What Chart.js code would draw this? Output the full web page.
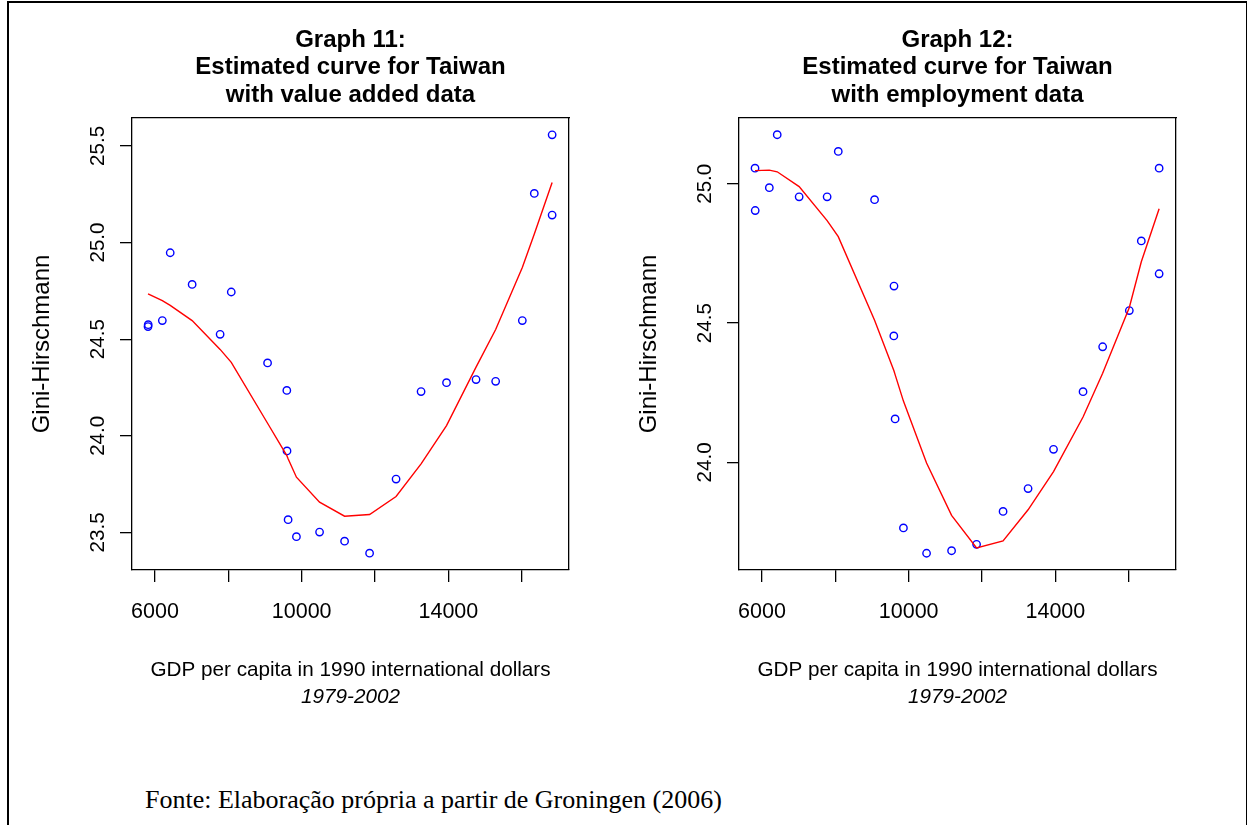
<!DOCTYPE html>
<html>
<head>
<meta charset="utf-8">
<title>Estimated curves for Taiwan</title>
<script src="https://cdn.jsdelivr.net/npm/chart.js@4/dist/chart.umd.min.js"></script>
<style>
  html, body { margin: 0; padding: 0; background: #fff; }
  #page { position: relative; width: 1248px; height: 825px; overflow: hidden; background: #fff; }
  #frame { position: absolute; left: 7px; top: 1px; width: 1237px; height: 900px;
           border-left: 2px solid #000; border-top: 2px solid #000; border-right: 1px solid #000; }
  canvas { position: absolute; top: 0; }
  #c11 { left: 20px; }
  #c12 { left: 627px; }
  #source { position: absolute; left: 145px; top: 787px; font-family: "Liberation Serif", "Times New Roman", serif;
            font-size: 26px; line-height: 26px; color: #000; white-space: nowrap; }
</style>
</head>
<body>
<div id="page">
  <div id="frame"></div>
  <canvas id="c11" width="661" height="720"></canvas>
  <canvas id="c12" width="661" height="720"></canvas>
  <div id="source">Fonte: Elaboração própria a partir de Groningen (2006)</div>
</div>
<script>
// GDP per capita (1990 international dollars), Taiwan 1979-2002, sorted ascending
const gdp = [5810, 5815, 6200, 6415, 7013, 7776, 8080, 9070, 9595, 9600, 9630, 9857,
             10488, 11170, 11852, 12574, 13256, 13950, 14755, 15290, 16017, 16344, 16830, 16830];

// Gini-Hirschmann index, value added data
const giniValueAdded = [24.565, 24.575, 24.596, 24.947, 24.783, 24.525, 24.744, 24.377, 24.235, 23.922, 23.566, 23.478,
                        23.502, 23.455, 23.393, 23.776, 24.229, 24.275, 24.291, 24.282, 24.596, 25.254, 25.557, 25.142];
// fitted curve, value added data
const fitValueAdded = [24.734, 24.734, 24.699, 24.675, 24.596, 24.447, 24.380, 24.065, 23.898, 23.895, 23.881, 23.786,
                       23.657, 23.584, 23.593, 23.686, 23.855, 24.053, 24.355, 24.550, 24.871, 25.044, 25.310, 25.310];

// Gini-Hirschmann index, employment data
const giniEmployment = [25.056, 24.904, 24.986, 25.176, 24.953, 24.953, 25.116, 24.943, 24.454, 24.633, 24.156, 23.765,
                        23.674, 23.683, 23.706, 23.824, 23.906, 24.047, 24.254, 24.415, 24.545, 24.795, 25.056, 24.677];
// fitted curve, employment data
const fitEmployment = [25.047, 25.047, 25.049, 25.043, 24.990, 24.868, 24.810, 24.510, 24.330, 24.328, 24.315, 24.220,
                       23.998, 23.810, 23.693, 23.718, 23.830, 23.967, 24.163, 24.320, 24.556, 24.720, 24.910, 24.910];

// order in which the fitted values are joined (the last years go back and forth)
const curveOrder = [0, 1, 2, 3, 4, 5, 6, 7, 8, 9, 10, 11, 12, 13, 14, 15, 16, 17, 18, 19, 20, 21, 22, 21, 23];

// axis ticks
const xTicks = [6000, 8000, 10000, 12000, 14000, 16000];
const xTickLabels = ['6000', '', '10000', '', '14000', ''];
const yTicksValueAdded = [23.5, 24.0, 24.5, 25.0, 25.5];
const yTicksEmployment = [24.0, 24.5, 25.0];

// texts
const title11 = ['Graph 11:', 'Estimated curve for Taiwan', 'with value added data'];
const title12 = ['Graph 12:', 'Estimated curve for Taiwan', 'with employment data'];
const xTitle = 'GDP per capita in 1990 international dollars';
const xSubtitle = '1979-2002';
const yTitle = 'Gini-Hirschmann';

Chart.defaults.font.family = '"Liberation Sans", Arial, Helvetica, sans-serif';
Chart.defaults.color = '#000';

const INK = '#000';
const AXIS_W = 1.3;

function makePanel(canvasId, titleLines, gini, fit, yMin, yMax, yTicks) {
  const points = gdp.map((x, i) => ({ x: x, y: gini[i] }));
  const curve = curveOrder.map(i => ({ x: gdp[i], y: fit[i] }));

  return new Chart(document.getElementById(canvasId), {
    type: 'scatter',
    data: {
      datasets: [
        {
          label: 'fitted',
          data: curve,
          showLine: true,
          borderColor: '#FF0000',
          borderWidth: 1.4,
          pointRadius: 0,
          tension: 0,
          fill: false
        },
        {
          label: 'observed',
          data: points,
          showLine: false,
          pointStyle: 'circle',
          pointRadius: 3.7,
          pointBorderWidth: 1.4,
          pointBorderColor: '#0000FF',
          pointBackgroundColor: 'rgba(0,0,0,0)'
        }
      ]
    },
    options: {
      responsive: false,
      animation: false,
      events: [],
      layout: { padding: 0 },
      plugins: {
        legend: { display: false },
        tooltip: { enabled: false },
        title: {
          display: true,
          text: titleLines,
          color: INK,
          font: { size: 24, weight: 'bold', lineHeight: 1.146 },
          padding: { top: 26.25, bottom: 9.25 }
        },
        subtitle: {
          display: true,
          position: 'bottom',
          text: xSubtitle,
          color: INK,
          font: { size: 20.7, style: 'italic', lineHeight: 1.2 },
          padding: { top: 2.2, bottom: 10.6 }
        }
      },
      scales: {
        x: {
          type: 'linear',
          position: 'bottom',
          min: 5373,
          max: 17290,
          afterBuildTicks: s => { s.ticks = xTicks.map(v => ({ value: v })); },
          afterFit: s => { s.height = 112.4; },
          ticks: {
            autoSkip: false,
            minRotation: 0,
            maxRotation: 0,
            padding: 17.6,
            color: INK,
            font: { size: 21.5 },
            callback: v => xTickLabels[xTicks.indexOf(v)]
          },
          grid: { drawOnChartArea: false, drawTicks: true, tickLength: 12, color: INK, lineWidth: AXIS_W },
          border: { display: true, color: INK, width: AXIS_W },
          title: {
            display: true,
            text: xTitle,
            color: INK,
            font: { size: 20.7, lineHeight: 1.2 },
            padding: { top: 0, bottom: 0 }
          }
        },
        y: {
          type: 'linear',
          position: 'left',
          min: yMin,
          max: yMax,
          afterBuildTicks: s => { s.ticks = yTicks.map(v => ({ value: v })); },
          afterFit: s => { s.width = 112; },
          ticks: {
            minRotation: 90,
            maxRotation: 90,
            crossAlign: 'center',
            padding: 2,
            color: INK,
            font: { size: 20.6 },
            callback: v => Number(v).toFixed(1)
          },
          grid: { drawOnChartArea: false, drawTicks: true, tickLength: 12, color: INK, lineWidth: AXIS_W },
          border: { display: true, color: INK, width: AXIS_W },
          title: {
            display: true,
            text: yTitle,
            color: INK,
            font: { size: 24, lineHeight: 1.2 },
            padding: { top: 7.6, bottom: 0 }
          }
        },
        // right and top edges of the plot box
        boxRight: {
          type: 'linear',
          position: 'right',
          display: true,
          min: 0, max: 1,
          afterFit: s => { s.width = 112; },
          ticks: { display: false },
          grid: { display: false },
          border: { display: true, color: INK, width: AXIS_W }
        },
        boxTop: {
          type: 'linear',
          position: 'top',
          display: true,
          min: 0, max: 1,
          afterFit: s => { s.height = 0; },
          ticks: { display: false },
          grid: { display: false },
          border: { display: true, color: INK, width: AXIS_W }
        }
      }
    }
  });
}

makePanel('c11', title11, giniValueAdded, fitValueAdded, 23.306, 25.644, yTicksValueAdded);
makePanel('c12', title12, giniEmployment, fitEmployment, 23.614, 25.236, yTicksEmployment);
</script>
</body>
</html>
